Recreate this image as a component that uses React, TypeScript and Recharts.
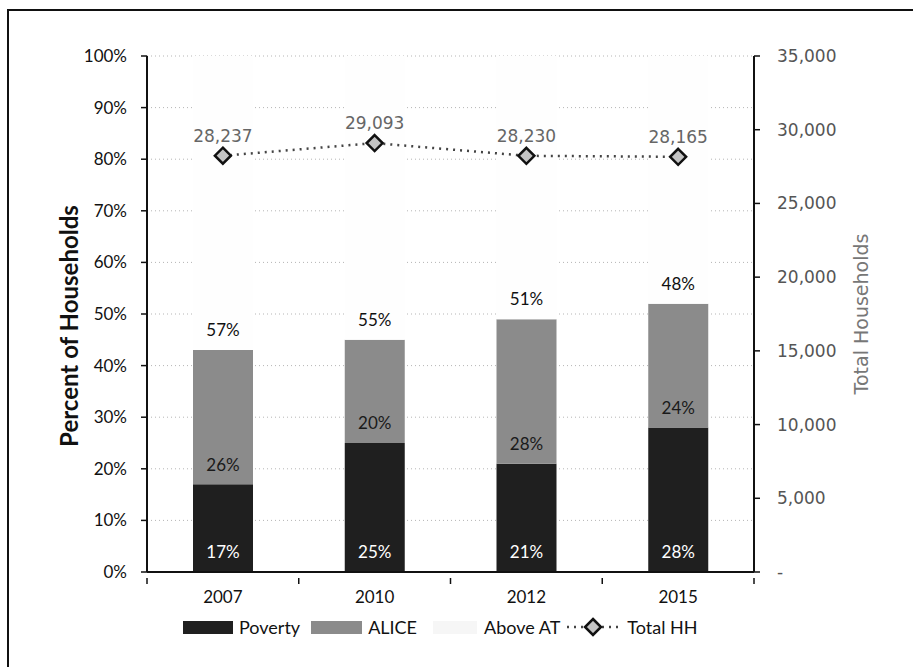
import {
  ComposedChart,
  Bar,
  Line,
  XAxis,
  YAxis,
  CartesianGrid,
  LabelList,
  Label,
} from "recharts";

const years = ["2007", "2010", "2012", "2015"];
const poverty = [17, 25, 21, 28];
const alice = [26, 20, 28, 24];
const aboveAT = [57, 55, 51, 48];
const totalHH = [28237, 29093, 28230, 28165];

const pctTicks = [0, 10, 20, 30, 40, 50, 60, 70, 80, 90, 100];
const hhTicks = [0, 5000, 10000, 15000, 20000, 25000, 30000, 35000];

const data = years.map((year, i) => ({
  year,
  poverty: poverty[i],
  alice: alice[i],
  above: aboveAT[i],
  total: totalHH[i],
}));

const SANS = "Lato, 'Noto Sans', sans-serif";
const VERD = "'DejaVu Sans', sans-serif";

const POVERTY_FILL = "#1f1f1f";
const ALICE_FILL = "#8b8b8b";
const ABOVE_FILL = "#fefefe";

const fmtHH = (v: number) => (v === 0 ? "-" : v.toLocaleString("en-US"));

// segment labels sit just above the base of each stacked piece
const baseLabel = (color: string) => (props: any) => {
  const { x, y, width, height, value } = props;
  return (
    <text
      x={Number(x) + Number(width) / 2}
      y={Number(y) + Number(height) - 18}
      textAnchor="middle"
      dominantBaseline="middle"
      fill={color}
      fontSize={17}
      fontFamily={SANS}
    >
      {value}%
    </text>
  );
};

// category label plus tick marks on the band edges
const YearTick = (props: any) => {
  const { x, y, payload, index, visibleTicksCount } = props;
  const half = payload?.offset || 607 / 8;
  const axisY = Number(y) - 13;
  const last = index === (visibleTicksCount ?? years.length) - 1;
  return (
    <g>
      <line x1={x - half} y1={axisY} x2={x - half} y2={axisY + 6} stroke="#111" strokeWidth={1.5} />
      {last && (
        <line x1={x + half} y1={axisY} x2={x + half} y2={axisY + 6} stroke="#111" strokeWidth={1.5} />
      )}
      <text
        x={x}
        y={y}
        dy="0.71em"
        textAnchor="middle"
        fill="#111"
        fontSize={17}
        fontFamily={SANS}
      >
        {payload.value}
      </text>
    </g>
  );
};

const Diamond = (props: any) => {
  const { cx, cy } = props;
  if (cx == null || cy == null) return null;
  const r = 8;
  return (
    <polygon
      points={`${cx},${cy - r} ${cx + r},${cy} ${cx},${cy + r} ${cx - r},${cy}`}
      fill="#c4c4c4"
      stroke="#111"
      strokeWidth={2.5}
    />
  );
};

function LegendRow() {
  const item = { display: "flex", alignItems: "center" } as const;
  const txt = { fontFamily: SANS, fontSize: 18, color: "#111" };
  return (
    <div
      style={{
        position: "absolute",
        left: 183,
        top: 616,
        display: "flex",
        alignItems: "center",
      }}
    >
      <div style={item}>
        <div style={{ width: 50, height: 13, background: POVERTY_FILL, marginRight: 6 }} />
        <span style={txt}>Poverty</span>
      </div>
      <div style={{ ...item, marginLeft: 11 }}>
        <div style={{ width: 51, height: 13, background: ALICE_FILL, marginRight: 6 }} />
        <span style={txt}>ALICE</span>
      </div>
      <div style={{ ...item, marginLeft: 16 }}>
        <div style={{ width: 44, height: 13, background: "#f6f6f6", marginRight: 7 }} />
        <span style={txt}>Above AT</span>
      </div>
      <div style={{ ...item, marginLeft: 5 }}>
        <svg width={56} height={20} style={{ marginRight: 6 }}>
          <line
            x1={2}
            y1={10}
            x2={54}
            y2={10}
            stroke="#444"
            strokeWidth={2.5}
            strokeDasharray="2 5"
          />
          <Diamond cx={28} cy={10} />
        </svg>
        <span style={txt}>Total HH</span>
      </div>
    </div>
  );
}

export default function App() {
  return (
    <div
      style={{
        position: "absolute",
        left: 0,
        top: 0,
        width: 913,
        height: 667,
        overflow: "hidden",
        background: "#fff",
      }}
    >
      <div
        style={{
          position: "absolute",
          left: 7,
          top: 9,
          width: 1000,
          height: 1000,
          border: "2.5px solid #111",
        }}
      />
      <div style={{ position: "absolute", left: 0, top: 0 }}>
        <ComposedChart
          width={913}
          height={667}
          data={data}
          margin={{ top: 56, right: 0, bottom: 65, left: 0 }}
        >
          <CartesianGrid
            yAxisId="left"
            vertical={false}
            stroke="#b5b5b5"
            strokeDasharray="1 3"
          />
          <XAxis
            dataKey="year"
            height={30}
            axisLine={{ stroke: "#111", strokeWidth: 2 }}
            tickLine={false}
            tickMargin={13}
            tick={<YearTick />}
          />
          <YAxis
            yAxisId="left"
            width={147}
            domain={[0, 100]}
            ticks={pctTicks}
            tickFormatter={(v: number) => `${v}%`}
            axisLine={{ stroke: "#111", strokeWidth: 2 }}
            tickLine={{ stroke: "#111", strokeWidth: 1.5 }}
            tickSize={6}
            tickMargin={14}
            tick={{ fill: "#111", fontSize: 17, fontFamily: SANS }}
          >
            <Label
              content={(p: any) => {
                const vb = p.viewBox;
                const cx = vb.x + 72;
                const cy = vb.y + vb.height / 2 + 12;
                return (
                  <text
                    x={cx}
                    y={cy}
                    transform={`rotate(-90, ${cx}, ${cy})`}
                    textAnchor="middle"
                    dominantBaseline="middle"
                    fontSize={24}
                    fontWeight="bold"
                    fontFamily={SANS}
                    fill="#111"
                  >
                    Percent of Households
                  </text>
                );
              }}
            />
          </YAxis>
          <YAxis
            yAxisId="right"
            orientation="right"
            width={159}
            domain={[0, 35000]}
            ticks={hhTicks}
            tickFormatter={fmtHH}
            axisLine={{ stroke: "#111", strokeWidth: 2 }}
            tickLine={{ stroke: "#111", strokeWidth: 1.5 }}
            tickSize={6}
            tickMargin={17}
            tick={{ fill: "#555", fontSize: 17, fontFamily: VERD }}
          >
            <Label
              content={(p: any) => {
                const vb = p.viewBox;
                const cx = vb.x + 108;
                const cy = vb.y + vb.height / 2;
                return (
                  <text
                    x={cx}
                    y={cy}
                    transform={`rotate(-90, ${cx}, ${cy})`}
                    textAnchor="middle"
                    dominantBaseline="middle"
                    fontSize={19}
                    fontFamily={VERD}
                    fill="#777"
                  >
                    Total Households
                  </text>
                );
              }}
            />
          </YAxis>
          <Bar
            yAxisId="left"
            dataKey="poverty"
            stackId="hh"
            fill={POVERTY_FILL}
            barSize={60}
            isAnimationActive={false}
          >
            <LabelList dataKey="poverty" content={baseLabel("#fff")} />
          </Bar>
          <Bar
            yAxisId="left"
            dataKey="alice"
            stackId="hh"
            fill={ALICE_FILL}
            barSize={60}
            isAnimationActive={false}
          >
            <LabelList dataKey="alice" content={baseLabel("#1a1a1a")} />
          </Bar>
          <Bar
            yAxisId="left"
            dataKey="above"
            stackId="hh"
            fill={ABOVE_FILL}
            barSize={60}
            isAnimationActive={false}
          >
            <LabelList dataKey="above" content={baseLabel("#111")} />
          </Bar>
          <Line
            yAxisId="right"
            dataKey="total"
            stroke="#444"
            strokeWidth={2.5}
            strokeDasharray="2 5"
            dot={<Diamond />}
            activeDot={false}
            isAnimationActive={false}
          >
            <LabelList
              dataKey="total"
              position="top"
              offset={14}
              formatter={(v: any) => Number(v).toLocaleString("en-US")}
              fill="#666"
              fontSize={17}
              fontFamily={VERD}
            />
          </Line>
        </ComposedChart>
      </div>
      <LegendRow />
    </div>
  );
}
